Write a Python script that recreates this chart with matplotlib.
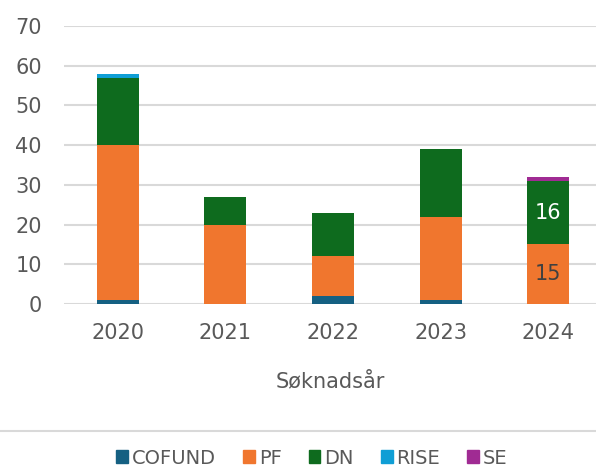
import numpy as np
import matplotlib.pyplot as plt
from matplotlib.lines import Line2D

years = ["2020", "2021", "2022", "2023", "2024"]
cofund = [1, 0, 2, 1, 0]
pf = [39, 20, 10, 21, 15]
dn = [17, 7, 11, 17, 16]
rise = [1, 0, 0, 0, 0]
se = [0, 0, 0, 0, 1]

series = [("COFUND", cofund, "#156082"),
          ("PF", pf, "#F0762E"),
          ("DN", dn, "#0E6B1E"),
          ("RISE", rise, "#0F9ED5"),
          ("SE", se, "#A02B93")]

fig = plt.figure(figsize=(5.96, 4.69), dpi=100)
W, H = 596, 469
ax = fig.add_axes([64 / W, 1 - 304 / H, (596 - 64) / W, (304 - 26) / H])

x = np.arange(len(years))
bottom = np.zeros(len(years))
bars = {}
for name, vals, col in series:
    bars[name] = ax.bar(x, vals, 0.39, bottom=bottom, color=col, label=name, zorder=3)
    bottom += np.array(vals)

# data labels only on 2024
i = 4
b = bars["PF"][i]
ax.text(b.get_x() + b.get_width() / 2, b.get_y() + b.get_height() / 2, str(pf[i]),
        ha="center", va="center", fontsize=15, color="#404040", zorder=4)
b = bars["DN"][i]
ax.text(b.get_x() + b.get_width() / 2, b.get_y() + b.get_height() / 2, str(dn[i]),
        ha="center", va="center", fontsize=15, color="white", zorder=4)

ax.set_xlim(-0.5, 4.5 - 6 / 107.5)
ax.set_ylim(0, 70)
ax.set_yticks(range(0, 71, 10))
ax.set_xticks(x)
ax.set_xticklabels(years)
ax.yaxis.grid(True, color="#D9D9D9", linewidth=1.5, zorder=0)
for s in ax.spines.values():
    s.set_visible(False)
ax.tick_params(length=0, labelsize=15, labelcolor="#595959")
ax.tick_params(axis="y", pad=16)
ax.tick_params(axis="x", pad=14)
ax.set_xlabel("Søknadsår", fontsize=15, color="#595959", labelpad=20)

fig.add_artist(Line2D([0, 1], [1 - 431 / H, 1 - 431 / H], color="#D9D9D9", linewidth=1.5))

handles = [plt.Rectangle((0, 0), 1, 1, color=c) for _, _, c in series]
fig.legend(handles, [n for n, _, _ in series], loc="center", bbox_to_anchor=(312 / W, 1 - 458 / H),
           ncol=5, frameon=False, fontsize=14, labelcolor="#595959",
           handlelength=0.6, handleheight=0.6, handletextpad=0.2, columnspacing=1.4)

fig.savefig("out.png", dpi=100)
